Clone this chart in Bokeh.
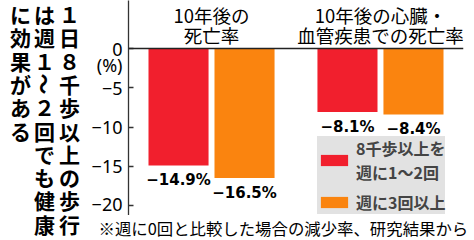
from math import pi
from bokeh.plotting import figure
from bokeh.layouts import row, column
from bokeh.models import (FactorRange, Range1d, FixedTicker, Span,
                          Legend, LegendItem, ColumnDataSource)
from bokeh.core.properties import value
from bokeh.embed import file_html
from bokeh.resources import INLINE

# ---- data ----
groups = ["10年後の\n死亡率", "10年後の心臓・\n血管疾患での死亡率"]
series = ["8千歩以上を\n週に1～2回", "週に3回以上"]
vals_1to2 = [-14.9, -8.1]
vals_3plus = [-16.5, -8.4]
yticks = [0, -5, -10, -15, -20]
unit_label = "(%)"
headline_cols = ["１日８千歩以上の歩行", "は週１～２回でも健康", "に効果がある"]
footnote = "※週に0回と比較した場合の減少率、研究結果から"

# ---- style / layout ----
RED = "#f11f2d"
ORANGE = "#fa840f"
W, H = 474, 240
LW = 88                    # width of the headline panel
FL, FR = 128, 463          # frame left / right (page px)
FB = 215                   # frame bottom (page px)
Y0 = 48                    # px of the zero line
PX = 7.85                  # px per percent
CJK = "Noto Sans CJK JP"

def blank_fig(w, h, xr, yr):
    f = figure(width=w, height=h, x_range=xr, y_range=yr,
               output_backend="svg", toolbar_location=None, min_border=0,
               x_axis_location=None, y_axis_location=None, outline_line_color=None,
               title=None, frame_align=False)
    f.grid.visible = False
    return f

# ---------- headline panel (vertical text, right-to-left columns) ----------
hp = blank_fig(LW, H, Range1d(0, LW), Range1d(H, 0))
col_x = [69, 44, 20]
PITCH = 23.3
TOP = 13.5
hx, hy, ht, ha = [], [], [], []
for ci, col in enumerate(headline_cols):
    for i, ch in enumerate(col):
        hx.append(col_x[ci])
        hy.append(TOP + PITCH * i)
        ht.append(ch)
        ha.append(-pi / 2 if ch == "～" else 0.0)
hp.text(x="x", y="y", text="t", angle="a",
        source=ColumnDataSource(dict(x=hx, y=hy, t=ht, a=ha)),
        text_align="center", text_baseline="middle",
        text_font=value(CJK), text_font_style="bold", text_font_size="21px",
        text_color="black")

# ---------- main chart ----------
x_range = FactorRange(*[(g, s) for g in groups for s in series],
                      range_padding=0.258, range_padding_units="absolute",
                      group_padding=0.56, factor_padding=0.0)
y_range = Range1d(-(FB - Y0) / PX, Y0 / PX)

p = figure(width=W - LW, height=FB, x_range=x_range, y_range=y_range,
           output_backend="svg", toolbar_location=None, x_axis_location=None,
           min_border=0, min_border_left=FL - LW, min_border_right=W - FR,
           outline_line_color=None, title=None, frame_align=False)
p.grid.visible = False

ax = p.yaxis[0]
ax.ticker = FixedTicker(ticks=yticks)
ax.major_label_overrides = {t: ("\n0\n" + unit_label if t == 0 else "\u2212%d" % (-t))
                            for t in yticks}
ax.major_tick_in = 5
ax.major_tick_out = 0
ax.minor_tick_line_color = None
ax.axis_line_color = "#333333"
ax.axis_line_width = 1.3
ax.major_tick_line_color = "#333333"
ax.major_tick_line_width = 1.3
ax.major_label_standoff = 6
ax.major_label_text_font = "Noto Sans"
ax.major_label_text_font_size = "18px"
ax.major_label_text_line_height = 0.69
ax.major_label_text_color = "black"

p.add_layout(Span(location=0, dimension="width", line_color="#222222", line_width=1.5))

r1 = p.vbar(x=[(g, series[0]) for g in groups], top=vals_1to2, bottom=0,
            width=0.91, fill_color=RED, line_color=None)
r2 = p.vbar(x=[(g, series[1]) for g in groups], top=vals_3plus, bottom=0,
            width=0.91, fill_color=ORANGE, line_color=None)

def fmt(v):
    return "\u2212%.1f%%" % abs(v)

for s, vals in ((series[0], vals_1to2), (series[1], vals_3plus)):
    p.text(x=[(g, s) for g in groups], y=vals, text=[fmt(v) for v in vals],
           text_align="center", text_baseline="middle", y_offset=15,
           text_font=value("DejaVu Sans"), text_font_style="bold",
           text_font_size="15px", text_color="black")

# group titles, one text per line
gx, gy, gt = [], [], []
for g in groups:
    for i, line in enumerate(g.split("\n")):
        gx.append(g)
        gy.append((Y0 - (14.5 + 20 * i)) / PX)
        gt.append(line)
p.text(x=gx, y=gy, text=gt, text_align="center", text_baseline="middle",
       text_font=value(CJK), text_font_size="18.5px", text_color="black")

legend = Legend(items=[LegendItem(label=value(series[0]), renderers=[r1]),
                       LegendItem(label=value(series[1]), renderers=[r2])],
                location=(317 - FL, 1), margin=0, padding=5, spacing=6,
                glyph_width=34, glyph_height=14, label_standoff=5,
                label_text_font=CJK, label_text_font_style="bold",
                label_text_font_size="16px", label_text_line_height=1.12,
                background_fill_color="#e2e2e2", background_fill_alpha=1.0,
                border_line_color=None)
p.add_layout(legend)

# ---------- footnote strip ----------
ff = blank_fig(W - LW, H - FB, Range1d(LW, W), Range1d(H - FB, 0))
ff.text(x=[98], y=[12.5], text=[footnote], text_align="left",
        text_baseline="middle", text_font=value(CJK), text_font_size="16.4px",
        text_color="black")

layout = row(hp, column(p, ff, spacing=0), spacing=0)

with open("out.html", "w", encoding="utf-8") as f:
    f.write(file_html(layout, INLINE))
